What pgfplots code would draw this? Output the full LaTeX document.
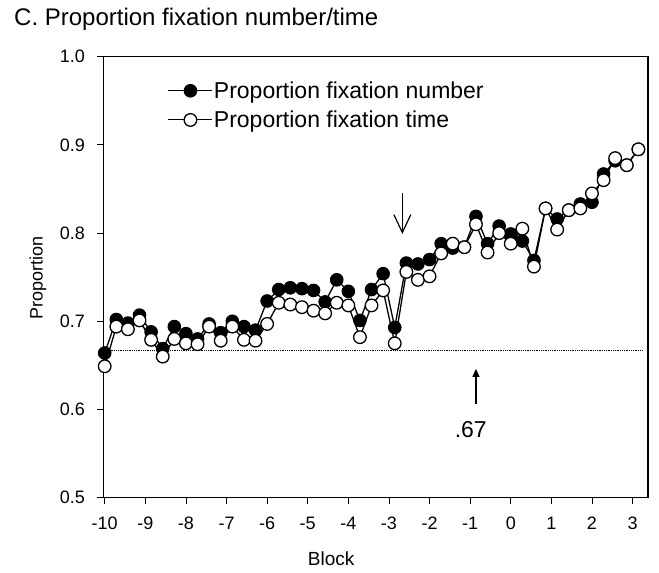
\documentclass[border=0pt]{standalone}
\usepackage{fontspec}
\setmainfont{Liberation Sans}
\usepackage{pgfplots}
\pgfplotsset{compat=1.18}
\usetikzlibrary{arrows.meta}

% block positions: -10 + k*2/7
\pgfplotstableread{
x      num    time
-10.000 0.664 0.649
-9.714 0.702 0.694
-9.429 0.698 0.691
-9.143 0.707 0.701
-8.857 0.688 0.679
-8.571 0.669 0.660
-8.286 0.694 0.680
-8.000 0.686 0.675
-7.714 0.680 0.674
-7.429 0.697 0.694
-7.143 0.687 0.678
-6.857 0.700 0.694
-6.571 0.694 0.679
-6.286 0.690 0.678
-6.000 0.723 0.697
-5.714 0.736 0.721
-5.429 0.738 0.719
-5.143 0.737 0.716
-4.857 0.735 0.712
-4.571 0.722 0.709
-4.286 0.747 0.721
-4.000 0.734 0.718
-3.714 0.701 0.682
-3.429 0.736 0.718
-3.143 0.754 0.735
-2.857 0.693 0.675
-2.571 0.766 0.756
-2.286 0.765 0.747
-2.000 0.770 0.751
-1.714 0.788 0.777
-1.429 0.783 0.788
-1.143 0.784 0.784
-0.857 0.819 0.810
-0.571 0.788 0.778
-0.286 0.808 0.800
0.000 0.799 0.788
0.286 0.791 0.805
0.571 0.769 0.762
0.857 0.828 0.828
1.143 0.816 0.804
1.429 0.826 0.826
1.714 0.833 0.828
2.000 0.835 0.845
2.286 0.867 0.860
2.571 0.882 0.885
2.857 0.877 0.877
3.143 0.895 0.895
}\props

\begin{document}
\begin{tikzpicture}
\begin{axis}[
  scale only axis, width=544.5pt, height=441pt,
  xmin=-10.03, xmax=3.38, ymin=0.5, ymax=1.0,
  xtick={-10,-9,-8,-7,-6,-5,-4,-3,-2,-1,0,1,2,3},
  xticklabels={-10,-9,-8,-7,-6,-5,-4,-3,-2,-1,0,1,2,3},
  ytick={0.5,0.6,0.7,0.8,0.9,1.0},
  yticklabels={0.5,0.6,0.7,0.8,0.9,1.0},
  xtick pos=bottom, ytick pos=left,
  tick align=outside, major tick length=6pt,
  tick style={black, line width=0.8pt},
  axis line style={line width=1.2pt},
  ticklabel style={font=\fontsize{18}{20}\selectfont},
  xticklabel style={yshift=-10pt},
  yticklabel style={xshift=-9pt},
  xlabel={Block},
  xlabel style={at={(axis description cs:0.418,-0.139)}, anchor=center, font=\fontsize{19}{22}\selectfont},
  ylabel={Proportion},
  ylabel style={at={(axis description cs:-0.1203,0.498)}, anchor=center, font=\fontsize{18}{21}\selectfont},
  title={C. Proportion fixation number/time},
  title style={at={(axis description cs:-0.1644,1.0565)}, anchor=base west, inner sep=0pt, font=\fontsize{24}{28}\selectfont},
  legend style={draw=none, fill=none, at={(axis description cs:0.118,0.946)}, anchor=north west,
    font=\fontsize{23}{27}\selectfont, row sep=9pt, column sep=0pt, inner sep=0pt, nodes={inner sep=1pt}},
  legend cell align=left,
  legend image code/.code={\draw[#1, line width=1pt, mark repeat=2, mark phase=2] plot coordinates {(0pt,0pt)(22pt,0pt)(44pt,0pt)};},
]
\addplot[black, line width=1.3pt, mark=*, mark size=6.3pt, mark options={fill=black, draw=black, line width=1pt}]
  table[x=x, y=num] {\props};
\addlegendentry{Proportion fixation number}
\addplot[black, line width=1.3pt, mark=*, mark size=6.3pt, mark options={fill=white, draw=black, line width=1.3pt}]
  table[x=x, y=time] {\props};
\addlegendentry{Proportion fixation time}
\addplot[forget plot, black, densely dotted, line width=0.8pt] coordinates {(-10.03,0.667) (3.24,0.667)};
\draw[line width=1.2pt, -{Straight Barb[length=18pt, width=17pt, line width=1.2pt]}] (axis cs:-2.67,0.846) -- (axis cs:-2.67,0.799);
\draw[line width=1.2pt, -{Triangle[length=8pt, width=7pt]}] (axis cs:-0.857,0.606) -- (axis cs:-0.857,0.646);
\node[font=\fontsize{23}{27}\selectfont] at (axis cs:-0.985,0.577) {.67};
\end{axis}
\pgfresetboundingbox
\path[use as bounding box] ([shift={(-103.5pt,-74.4pt)}]current axis.south west) rectangle ([shift={(11pt,56.7pt)}]current axis.north east);
\end{tikzpicture}
\end{document}
